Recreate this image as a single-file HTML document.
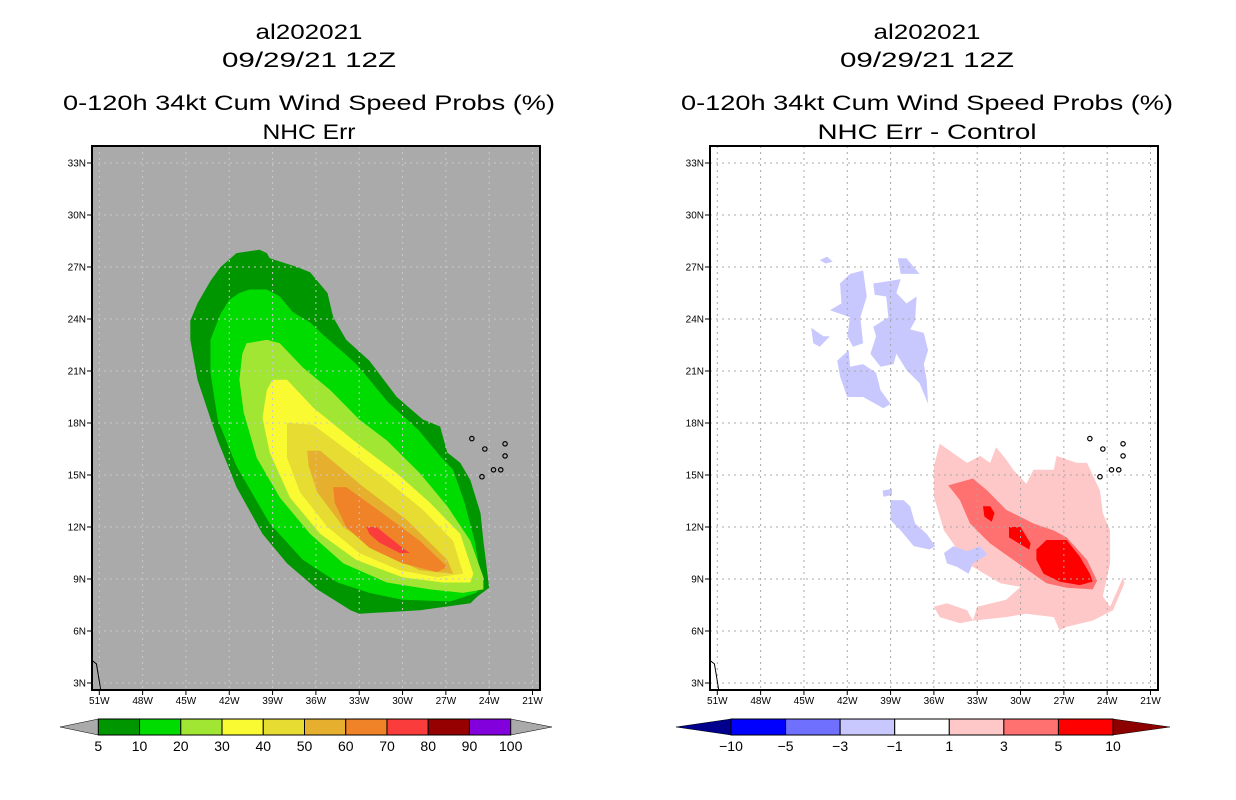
<!DOCTYPE html>
<html><head><meta charset="utf-8">
<style>
html,body{margin:0;padding:0;background:#fff;}
svg{display:block;}
text{font-family:"Liberation Sans",sans-serif;fill:#000;}
</style></head>
<body>
<svg id="chart" width="1236" height="800" viewBox="0 0 1236 800" xmlns="http://www.w3.org/2000/svg">
  <rect width="1236" height="800" fill="#fff"/>
  <g>
    <text x="309" y="39" font-size="21" text-anchor="middle" textLength="107" lengthAdjust="spacingAndGlyphs">al202021</text>
    <text x="309" y="67" font-size="21" text-anchor="middle" textLength="174" lengthAdjust="spacingAndGlyphs">09/29/21 12Z</text>
    <text x="309" y="110" font-size="21" text-anchor="middle" textLength="492" lengthAdjust="spacingAndGlyphs">0-120h 34kt Cum Wind Speed Probs (%)</text>
    <text x="309" y="139" font-size="21" text-anchor="middle" textLength="93" lengthAdjust="spacingAndGlyphs">NHC Err</text>
  </g>
  <g>
    <text x="927" y="39" font-size="21" text-anchor="middle" textLength="107" lengthAdjust="spacingAndGlyphs">al202021</text>
    <text x="927" y="67" font-size="21" text-anchor="middle" textLength="174" lengthAdjust="spacingAndGlyphs">09/29/21 12Z</text>
    <text x="927" y="110" font-size="21" text-anchor="middle" textLength="492" lengthAdjust="spacingAndGlyphs">0-120h 34kt Cum Wind Speed Probs (%)</text>
    <text x="927" y="139" font-size="21" text-anchor="middle" textLength="219" lengthAdjust="spacingAndGlyphs">NHC Err - Control</text>
  </g>
  <g id="left"></g>
  <g id="right"></g>
  <g id="cbars"></g>
</svg>
<script>
// ---- data ----
const latTicks = [33,30,27,24,21,18,15,12,9,6,3];
const lonTicks = [-51,-48,-45,-42,-39,-36,-33,-30,-27,-24,-21];
const leftLevels = ["5","10","20","30","40","50","60","70","80","90","100"];
const leftColors = ["#009600","#00dc00","#a0e632","#fafa32","#e6dc32","#e6af2d","#f08228","#fa3c3c","#960000","#8200dc"];
const rightLevels = ["-10","-5","-3","-1","1","3","5","10"];
const rightColors = ["#0000ff","#7070ff","#c8c8ff","#ffffff","#ffc8c8","#ff7070","#ff0000"];

const c5 = [[-41.5,27.8],[-39.9,28.0],[-39.4,27.8],[-39.2,27.5],[-37.3,27.0],[-36.4,26.7],[-35.2,25.5],[-34.8,24.1],[-33.9,22.8],[-32.3,21.6],[-30.4,19.5],[-28.6,18.2],[-27.4,17.8],[-26.9,16.3],[-26.0,15.7],[-25.3,14.7],[-24.6,12.8],[-24.4,11.2],[-24.0,8.5],[-24.8,8.0],[-25.3,7.6],[-28.8,7.2],[-33.0,7.0],[-33.6,7.2],[-35.9,8.4],[-38.0,9.9],[-39.7,11.6],[-41.5,14.3],[-42.8,17.0],[-44.2,20.5],[-44.7,22.8],[-44.7,23.9],[-44.2,24.9],[-43.3,26.2],[-42.6,27.0]];
const c10 = [[-41.3,25.5],[-40.6,25.7],[-39.4,25.7],[-38.5,25.3],[-37.6,24.4],[-36.4,23.8],[-35.4,23.0],[-34.0,22.0],[-33.2,21.4],[-31.0,19.2],[-28.9,17.6],[-27.3,16.0],[-26.5,15.3],[-25.7,13.4],[-25.0,11.2],[-24.5,8.7],[-24.9,8.2],[-26.7,7.7],[-30.0,7.8],[-32.3,8.2],[-34.5,8.8],[-36.9,10.1],[-39.2,12.2],[-41.5,15.5],[-42.8,18.2],[-43.3,20.9],[-43.3,22.8],[-42.6,24.3],[-42.0,25.1]];
const c20 = [[-40.8,22.6],[-39.4,22.8],[-38.5,22.6],[-36.9,21.2],[-35.0,19.9],[-33.0,18.2],[-31.1,17.0],[-28.8,15.1],[-26.9,13.2],[-25.3,11.2],[-24.4,9.1],[-24.4,8.4],[-25.8,8.2],[-28.1,8.4],[-31.1,8.8],[-34.1,9.9],[-36.4,11.6],[-38.5,13.7],[-40.1,16.0],[-41.0,18.6],[-41.3,20.5],[-41.1,22.0]];
const c30 = [[-39.0,20.5],[-38.0,20.5],[-36.2,18.9],[-33.4,17.0],[-30.4,15.1],[-28.1,13.4],[-26.0,11.6],[-25.1,9.3],[-25.3,8.8],[-27.2,8.8],[-30.0,9.1],[-33.2,10.1],[-35.7,11.6],[-37.8,13.7],[-39.2,16.3],[-39.7,18.3],[-39.4,19.9]];
const c40 = [[-38.0,18.0],[-36.2,17.9],[-34.1,16.6],[-31.1,14.7],[-28.6,13.0],[-26.5,11.2],[-25.8,9.3],[-27.6,9.1],[-30.2,9.5],[-33.0,10.5],[-35.2,12.0],[-37.1,14.0],[-38.0,16.0]];
const c50 = [[-36.6,16.4],[-35.7,16.4],[-32.7,14.3],[-29.7,12.4],[-26.9,10.1],[-26.5,9.3],[-28.8,9.5],[-31.8,10.7],[-34.1,12.0],[-35.9,14.0],[-36.5,15.5]];
const c60 = [[-34.8,14.3],[-33.9,14.3],[-31.4,12.8],[-28.8,11.2],[-26.9,9.7],[-27.6,9.4],[-30.0,9.9],[-32.3,10.8],[-33.9,12.0],[-34.7,13.4]];
const c70 = [[-32.5,12.0],[-31.8,12.0],[-30.0,10.8],[-29.5,10.5],[-30.2,10.5],[-31.6,11.1],[-32.3,11.6]];

const diffPink1 = [[-35.6,16.8],[-33.7,15.7],[-32.8,16.1],[-32.1,15.7],[-31.7,16.6],[-31.0,15.9],[-30.5,15.3],[-29.6,14.5],[-29.1,15.3],[-27.7,15.3],[-27.5,16.1],[-26.1,15.7],[-25.4,15.7],[-24.5,14.1],[-24.3,12.8],[-23.8,11.8],[-23.8,9.9],[-24.3,8.0],[-23.8,7.4],[-22.9,9.1],[-22.8,8.75],[-23.6,7.2],[-25.0,6.6],[-26.8,6.25],[-27.3,6.05],[-27.7,6.8],[-29.6,7.0],[-31.0,6.8],[-33.3,6.6],[-33.0,7.4],[-31.0,7.8],[-30.0,8.55],[-31.4,8.75],[-33.7,9.9],[-35.3,11.8],[-36.0,13.75],[-36.0,15.5]];
const diffPink2 = [[-36.0,7.4],[-35.1,7.6],[-33.7,7.2],[-33.3,6.6],[-34.2,6.45],[-35.6,6.8]];
const diffSalmon = [[-35.0,14.4],[-33.3,14.8],[-32.3,14.1],[-31.0,13.0],[-29.1,12.2],[-27.7,11.8],[-26.8,11.4],[-25.4,10.1],[-24.7,8.9],[-25.0,8.4],[-26.8,8.5],[-28.2,8.75],[-30.5,10.1],[-32.1,11.05],[-33.5,12.2],[-34.2,13.55]];
const diffRed1 = [[-28.9,10.7],[-28.2,11.25],[-26.8,11.25],[-25.9,10.3],[-25.2,9.3],[-25.0,8.85],[-25.9,8.65],[-27.3,8.85],[-28.4,9.3],[-28.9,10.1]];
const diffRed2 = [[-30.8,12.0],[-30.0,12.0],[-29.3,11.05],[-29.4,10.7],[-30.3,11.15],[-30.8,11.4]];
const diffRed3 = [[-32.6,13.2],[-32.1,13.2],[-31.8,12.8],[-32.0,12.3],[-32.5,12.6]];
const diffBlue1 = [[-42.5,26.05],[-41.8,26.6],[-40.9,26.8],[-40.65,25.3],[-41.1,24.1],[-40.9,22.6],[-41.6,22.4],[-42.0,23.0],[-41.8,24.1],[-43.2,24.5],[-42.4,24.9]];
const diffBlue2 = [[-40.2,26.05],[-38.3,26.3],[-38.6,25.5],[-37.9,24.9],[-37.2,25.3],[-37.3,23.9],[-37.65,23.4],[-36.7,23.2],[-36.4,22.2],[-36.7,21.4],[-36.5,20.5],[-36.4,19.1],[-37.0,20.3],[-37.9,21.05],[-38.6,22.0],[-38.8,21.4],[-39.7,21.25],[-40.4,22.0],[-40.0,23.0],[-40.2,23.55],[-39.15,24.1],[-39.3,25.3],[-40.1,25.4]];
const diffBlue3 = [[-42.7,21.6],[-41.9,22.2],[-41.8,21.25],[-40.9,21.4],[-40.0,20.9],[-39.7,19.9],[-39.0,19.1],[-39.5,18.85],[-40.9,19.5],[-42.0,19.5],[-42.5,20.7]];
const diffBlue4 = [[-44.5,23.5],[-43.65,23.0],[-43.2,23.0],[-43.9,22.4],[-44.35,22.6]];
const diffBlue5 = [[-38.5,27.5],[-37.9,27.5],[-37.0,26.6],[-38.3,26.6]];
const diffBlue6 = [[-43.9,27.4],[-43.4,27.6],[-43.0,27.3],[-43.5,27.2]];
const diffBlue7 = [[-39.0,13.55],[-38.1,13.55],[-37.65,13.2],[-37.3,12.2],[-36.5,11.6],[-35.9,10.9],[-36.3,10.7],[-37.4,10.9],[-38.3,11.8],[-39.0,12.4]];
const diffBlue8 = [[-35.3,10.5],[-34.65,10.9],[-33.7,10.6],[-32.8,10.9],[-32.3,10.4],[-33.3,9.9],[-33.6,9.3],[-34.4,9.7],[-35.1,9.9]];
const diffBlue9 = [[-39.55,14.1],[-38.9,14.2],[-38.9,13.84],[-39.5,13.75]];
const islands = [[-25.2,17.1],[-24.3,16.5],[-22.9,16.8],[-22.9,16.1],[-24.5,14.9],[-23.7,15.3],[-23.2,15.3]];
const coast = [[-51.5,4.3],[-51.2,4.1],[-51.1,3.6],[-50.9,2.6]];

// ---- drawing ----
const NS = "http://www.w3.org/2000/svg";
const TOP = 146, BOT = 690, W = 448;
function X(x0, lon){ return x0 + 7.3 + (lon + 51) * 14.44; }
function Y(lat){ return 163 + (33 - lat) * 17.333; }
function mk(tag, attrs, parent){
  const e = document.createElementNS(NS, tag);
  for (const k in attrs) e.setAttribute(k, attrs[k]);
  parent.appendChild(e);
  return e;
}
function pts(x0, arr){ return arr.map(p => X(x0,p[0]).toFixed(1)+","+Y(p[1]).toFixed(1)).join(" "); }

function drawPanel(g, x0, bg, shapes){
  const clipId = "clip"+x0;
  const cp = mk("clipPath", {id: clipId}, g);
  mk("rect", {x:x0, y:TOP, width:W, height:BOT-TOP}, cp);
  const bgRect = mk("rect", {x:x0, y:TOP, width:W, height:BOT-TOP, fill:bg}, g);
  
  
  const inner = mk("g", {"clip-path":"url(#"+clipId+")"}, g);
  shapes.forEach(s => {
    const p = mk("polygon", {points: pts(x0, s.d), fill: s.c}, inner);
    
    
  });
  const gc = bg === "#ffffff" ? "#a8a8a8" : "#c8c8c8";
  latTicks.forEach(lat => {
    const y = Y(lat);
    const l = mk("line", {x1:x0, x2:x0+W, y1:y, y2:y, stroke:gc, "stroke-width":1, "stroke-dasharray":"2,4"}, inner);
    
    
    const t = mk("line", {x1:x0-5, x2:x0, y1:y, y2:y, stroke:"#000", "stroke-width":1}, g);
    
    
    const tx = mk("text", {x:x0-6, y:y+3.5, "font-size":10, "text-anchor":"end"}, g);
    tx.textContent = lat + "N";
    
    
  });
  lonTicks.forEach(lon => {
    const x = X(x0, lon);
    const l = mk("line", {x1:x, x2:x, y1:TOP, y2:BOT, stroke:gc, "stroke-width":1, "stroke-dasharray":"2,4"}, inner);
    
    
    const t = mk("line", {x1:x, x2:x, y1:BOT, y2:BOT+5, stroke:"#000", "stroke-width":1}, g);
    
    
    const tx = mk("text", {x:x, y:BOT+14, "font-size":10, "text-anchor":"middle"}, g);
    tx.textContent = (-lon) + "W";
    
    
  });
  islands.forEach(p => {
    const c = mk("ellipse", {cx:X(x0,p[0]), cy:Y(p[1]), rx:2.2, ry:2.2, fill:"none", stroke:"#000", "stroke-width":1.2}, inner);
    
    
  });
  const cl = mk("polyline", {points: pts(x0, coast), fill:"none", stroke:"#000", "stroke-width":1}, inner);
  
  
  const fr = mk("rect", {x:x0, y:TOP, width:W, height:BOT-TOP, fill:"none", stroke:"#000", "stroke-width":2}, g);
  
  
}

drawPanel(document.getElementById("left"), 92, "#aaaaaa", [
  {d:c5, c:leftColors[0], n:"contour-5"},
  {d:c10, c:leftColors[1], n:"contour-10"},
  {d:c20, c:leftColors[2], n:"contour-20"},
  {d:c30, c:leftColors[3], n:"contour-30"},
  {d:c40, c:leftColors[4], n:"contour-40"},
  {d:c50, c:leftColors[5], n:"contour-50"},
  {d:c60, c:leftColors[6], n:"contour-60"},
  {d:c70, c:leftColors[7], n:"contour-70"}
]);
drawPanel(document.getElementById("right"), 710, "#ffffff", [
  {d:diffPink1, c:rightColors[4], n:"diff-1-3"},
  {d:diffPink2, c:rightColors[4], n:"diff-1-3"},
  {d:diffSalmon, c:rightColors[5], n:"diff-3-5"},
  {d:diffRed1, c:rightColors[6], n:"diff-5-10"},
  {d:diffRed2, c:rightColors[6], n:"diff-5-10"},
  {d:diffRed3, c:rightColors[6], n:"diff-5-10"},
  {d:diffBlue1, c:rightColors[2], n:"diff-neg-1-3"},
  {d:diffBlue2, c:rightColors[2], n:"diff-neg-1-3"},
  {d:diffBlue3, c:rightColors[2], n:"diff-neg-1-3"},
  {d:diffBlue4, c:rightColors[2], n:"diff-neg-1-3"},
  {d:diffBlue5, c:rightColors[2], n:"diff-neg-1-3"},
  {d:diffBlue6, c:rightColors[2], n:"diff-neg-1-3"},
  {d:diffBlue7, c:rightColors[2], n:"diff-neg-1-3"},
  {d:diffBlue8, c:rightColors[2], n:"diff-neg-1-3"},
  {d:diffBlue9, c:rightColors[2], n:"diff-neg-1-3"}
]);

function colorbar(x0, x1, tipL, tipR, colors, levels, leftTip, rightTip){
  const g = document.getElementById("cbars");
  const yT = 719, yB = 735, yM = 727;
  const w = (x1 - x0) / colors.length;
  const lt = mk("polygon", {points:`${tipL},${yM} ${x0},${yT} ${x0},${yB}`, fill:leftTip, stroke:"#000", "stroke-width":0.5}, g);
  
  
  const rt = mk("polygon", {points:`${tipR},${yM} ${x1},${yT} ${x1},${yB}`, fill:rightTip, stroke:"#000", "stroke-width":0.5}, g);
  
  
  colors.forEach((c,i) => {
    const r = mk("rect", {x:x0+i*w, y:yT, width:w, height:yB-yT, fill:c, stroke:"#000", "stroke-width":1}, g);
    
    
  });
  levels.forEach((lv,i) => {
    const t = mk("text", {x:x0+i*w, y:751, "font-size":14, "text-anchor":"middle"}, g);
    t.textContent = lv.replace("-", "\u2212");
    
    
  });
}
colorbar(98.3, 510.7, 60, 552, leftColors, leftLevels, "#aaaaaa", "#aaaaaa");
colorbar(731, 1113, 676, 1170, rightColors, rightLevels, "#00008c", "#8c0000");
</script>
</body></html>
